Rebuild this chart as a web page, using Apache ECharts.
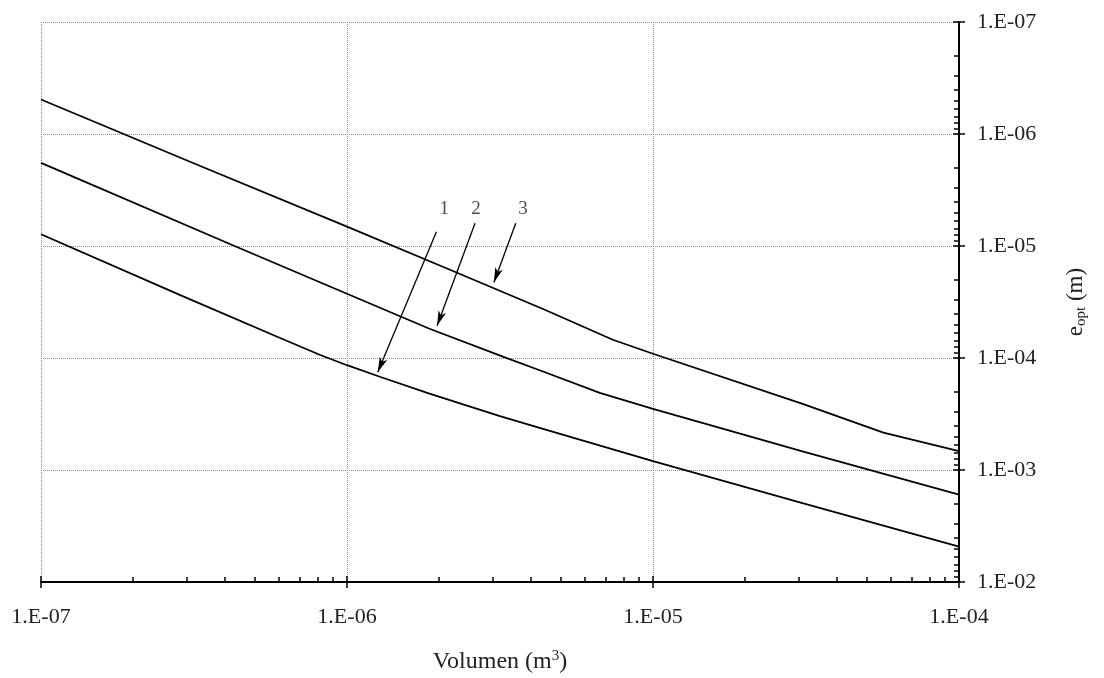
<!DOCTYPE html>
<html>
<head>
<meta charset="utf-8">
<script src="https://cdn.jsdelivr.net/npm/echarts@6/dist/echarts.min.js"></script>
<style>html,body{margin:0;padding:0;background:#fff}#c{width:1104px;height:678px}</style>
</head>
<body>
<div id="c"></div>
<script>
// ---- data ----
const xTickExponents = [-7, -6, -5, -4];
const yTickExponents = [-7, -6, -5, -4, -3, -2];
const minorSteps = [2, 3, 4, 5, 6, 7, 8, 9];

const curve1V = [1e-7, 2.84e-7, 6.02e-7, 8.14e-7, 1e-6, 1.28e-6, 1.86e-6, 3.16e-6, 4.37e-6, 1e-5, 3.1e-5, 1e-4];
const curve1E = [7.85e-6, 2.73e-5, 6.59e-5, 9.35e-5, 1.16e-4, 1.47e-4, 2.08e-4, 3.31e-4, 4.29e-4, 8.35e-4, 1.99e-3, 4.83e-3];
const curve2V = [1e-7, 4.29e-7, 1e-6, 1.86e-6, 3.28e-6, 4.37e-6, 6.7e-6, 1e-5, 3.1e-5, 1e-4];
const curve2E = [1.81e-6, 1e-5, 2.67e-5, 5.48e-5, 9.88e-5, 1.32e-4, 2.05e-4, 2.85e-4, 6.84e-4, 1.66e-3];
const curve3V = [1e-7, 3.3e-7, 1e-6, 2.17e-6, 4.43e-6, 7.39e-6, 1e-5, 3.1e-5, 5.66e-5, 1e-4];
const curve3E = [4.92e-7, 1.92e-6, 6.72e-6, 1.63e-5, 3.71e-5, 6.87e-5, 9.16e-5, 2.58e-4, 4.63e-4, 6.8e-4];

const curveLabels = ['1', '2', '3'];
const labelV = [2.08e-6, 2.64e-6, 3.76e-6];
const labelE = [4.67e-6, 4.67e-6, 4.67e-6];
const arrowStartV = [1.96e-6, 2.62e-6, 3.56e-6];
const arrowStartE = [7.45e-6, 6.27e-6, 6.27e-6];
const arrowEndV = [1.26e-6, 1.97e-6, 3.02e-6];
const arrowEndE = [1.34e-4, 5.15e-5, 2.12e-5];

const xName = 'Volumen (m{sup|3})';
const yName = 'e{sub|opt} (m)';

// ---- build ----
function minorOf(exps) {
  const out = [];
  for (let i = 0; i < exps.length - 1; i++) {
    minorSteps.forEach(m => out.push(exps[i] + Math.log10(m)));
  }
  return out;
}
function fmt(v) {
  const e = Math.round(Math.log10(v));
  return '1.E' + (e < 0 ? '-' : '+') + String(Math.abs(e)).padStart(2, '0');
}
const FONT = 'Liberation Serif';
const TXT = '#222';
const tickStyle = { color: '#000', width: 1.5 };
const gridLine = { show: true, lineStyle: { color: '#8a8a8a', width: 1, type: [1, 1] } };
const zip = (a, b) => a.map((v, i) => [v, b[i]]);

function helperAxis(min, max, values, len, extra) {
  return Object.assign({
    type: 'value', min: min, max: max, silent: true,
    axisLine: { show: false },
    axisTick: { show: true, inside: true, length: len, customValues: values, lineStyle: tickStyle },
    axisLabel: { show: false },
    splitLine: { show: false }
  }, extra);
}

const chart = echarts.init(document.getElementById('c'), null, { renderer: 'canvas' });
chart.setOption({
  animation: false,
  backgroundColor: '#fff',
  grid: { left: 41, top: 22, width: 918, height: 560, containLabel: false, outerBoundsMode: 'none' },
  xAxis: [
    {
      type: 'log', logBase: 10, min: 1e-7, max: 1e-4, position: 'bottom',
      axisLine: { lineStyle: { color: '#000', width: 2 } },
      axisTick: { inside: false, length: 6, lineStyle: tickStyle },
      axisLabel: { formatter: fmt, fontFamily: FONT, fontSize: 22, color: TXT, margin: 24 },
      splitLine: gridLine,
      name: xName, nameLocation: 'middle', nameGap: 66,
      nameTextStyle: {
        fontFamily: FONT, fontSize: 24, color: TXT, lineHeight: 28,
        rich: { sup: { fontFamily: FONT, fontSize: 15, color: TXT, lineHeight: 15, padding: [0, 0, 12, 0] } }
      }
    },
    helperAxis(-7, -4, xTickExponents, 6, { position: 'bottom' }),
    helperAxis(-7, -4, minorOf(xTickExponents), 5, { position: 'bottom' })
  ],
  yAxis: [
    {
      type: 'log', logBase: 10, min: 1e-7, max: 1e-2, inverse: true, position: 'right',
      axisLine: { lineStyle: { color: '#000', width: 2 } },
      axisTick: { inside: false, length: 6, lineStyle: tickStyle },
      axisLabel: { formatter: fmt, fontFamily: FONT, fontSize: 22, color: TXT, margin: 18 },
      splitLine: gridLine,
      name: yName, nameLocation: 'middle', nameRotate: 90, nameGap: 104,
      nameTextStyle: {
        fontFamily: FONT, fontSize: 23, color: TXT, lineHeight: 26,
        rich: { sub: { fontFamily: FONT, fontSize: 15, color: TXT, lineHeight: 15, padding: [11, 0, 0, 0] } }
      }
    },
    helperAxis(-7, -2, yTickExponents, 6, { position: 'right', inverse: true }),
    helperAxis(-7, -2, minorOf(yTickExponents), 5, { position: 'right', inverse: true })
  ],
  series: [curve1V, curve2V, curve3V].map((vs, i) => {
    const es = [curve1E, curve2E, curve3E][i];
    return {
      type: 'line', name: curveLabels[i], xAxisIndex: 0, yAxisIndex: 0,
      data: zip(vs, es), showSymbol: false, symbol: 'none', silent: true,
      smooth: false,
      lineStyle: { color: '#000', width: 1.8 },
      markLine: {
        silent: true, symbol: ['none', 'arrow'], symbolSize: [0, 14],
        label: { show: false },
        lineStyle: { color: '#000', width: 1.3, type: 'solid' },
        emphasis: { disabled: true },
        data: [[
          { coord: [arrowStartV[i], arrowStartE[i]], symbol: 'none' },
          { coord: [arrowEndV[i], arrowEndE[i]], symbol: 'arrow', symbolSize: [6, 15] }
        ]]
      }
    };
  }).concat([{
    type: 'scatter', xAxisIndex: 0, yAxisIndex: 0, silent: true,
    symbolSize: 1, itemStyle: { color: 'rgba(0,0,0,0)' },
    data: curveLabels.map((t, i) => ({ name: t, value: [labelV[i], labelE[i]] })),
    label: { show: true, position: 'inside', formatter: '{b}', fontFamily: FONT, fontSize: 19, color: TXT }
  }])
});
</script>
</body>
</html>
